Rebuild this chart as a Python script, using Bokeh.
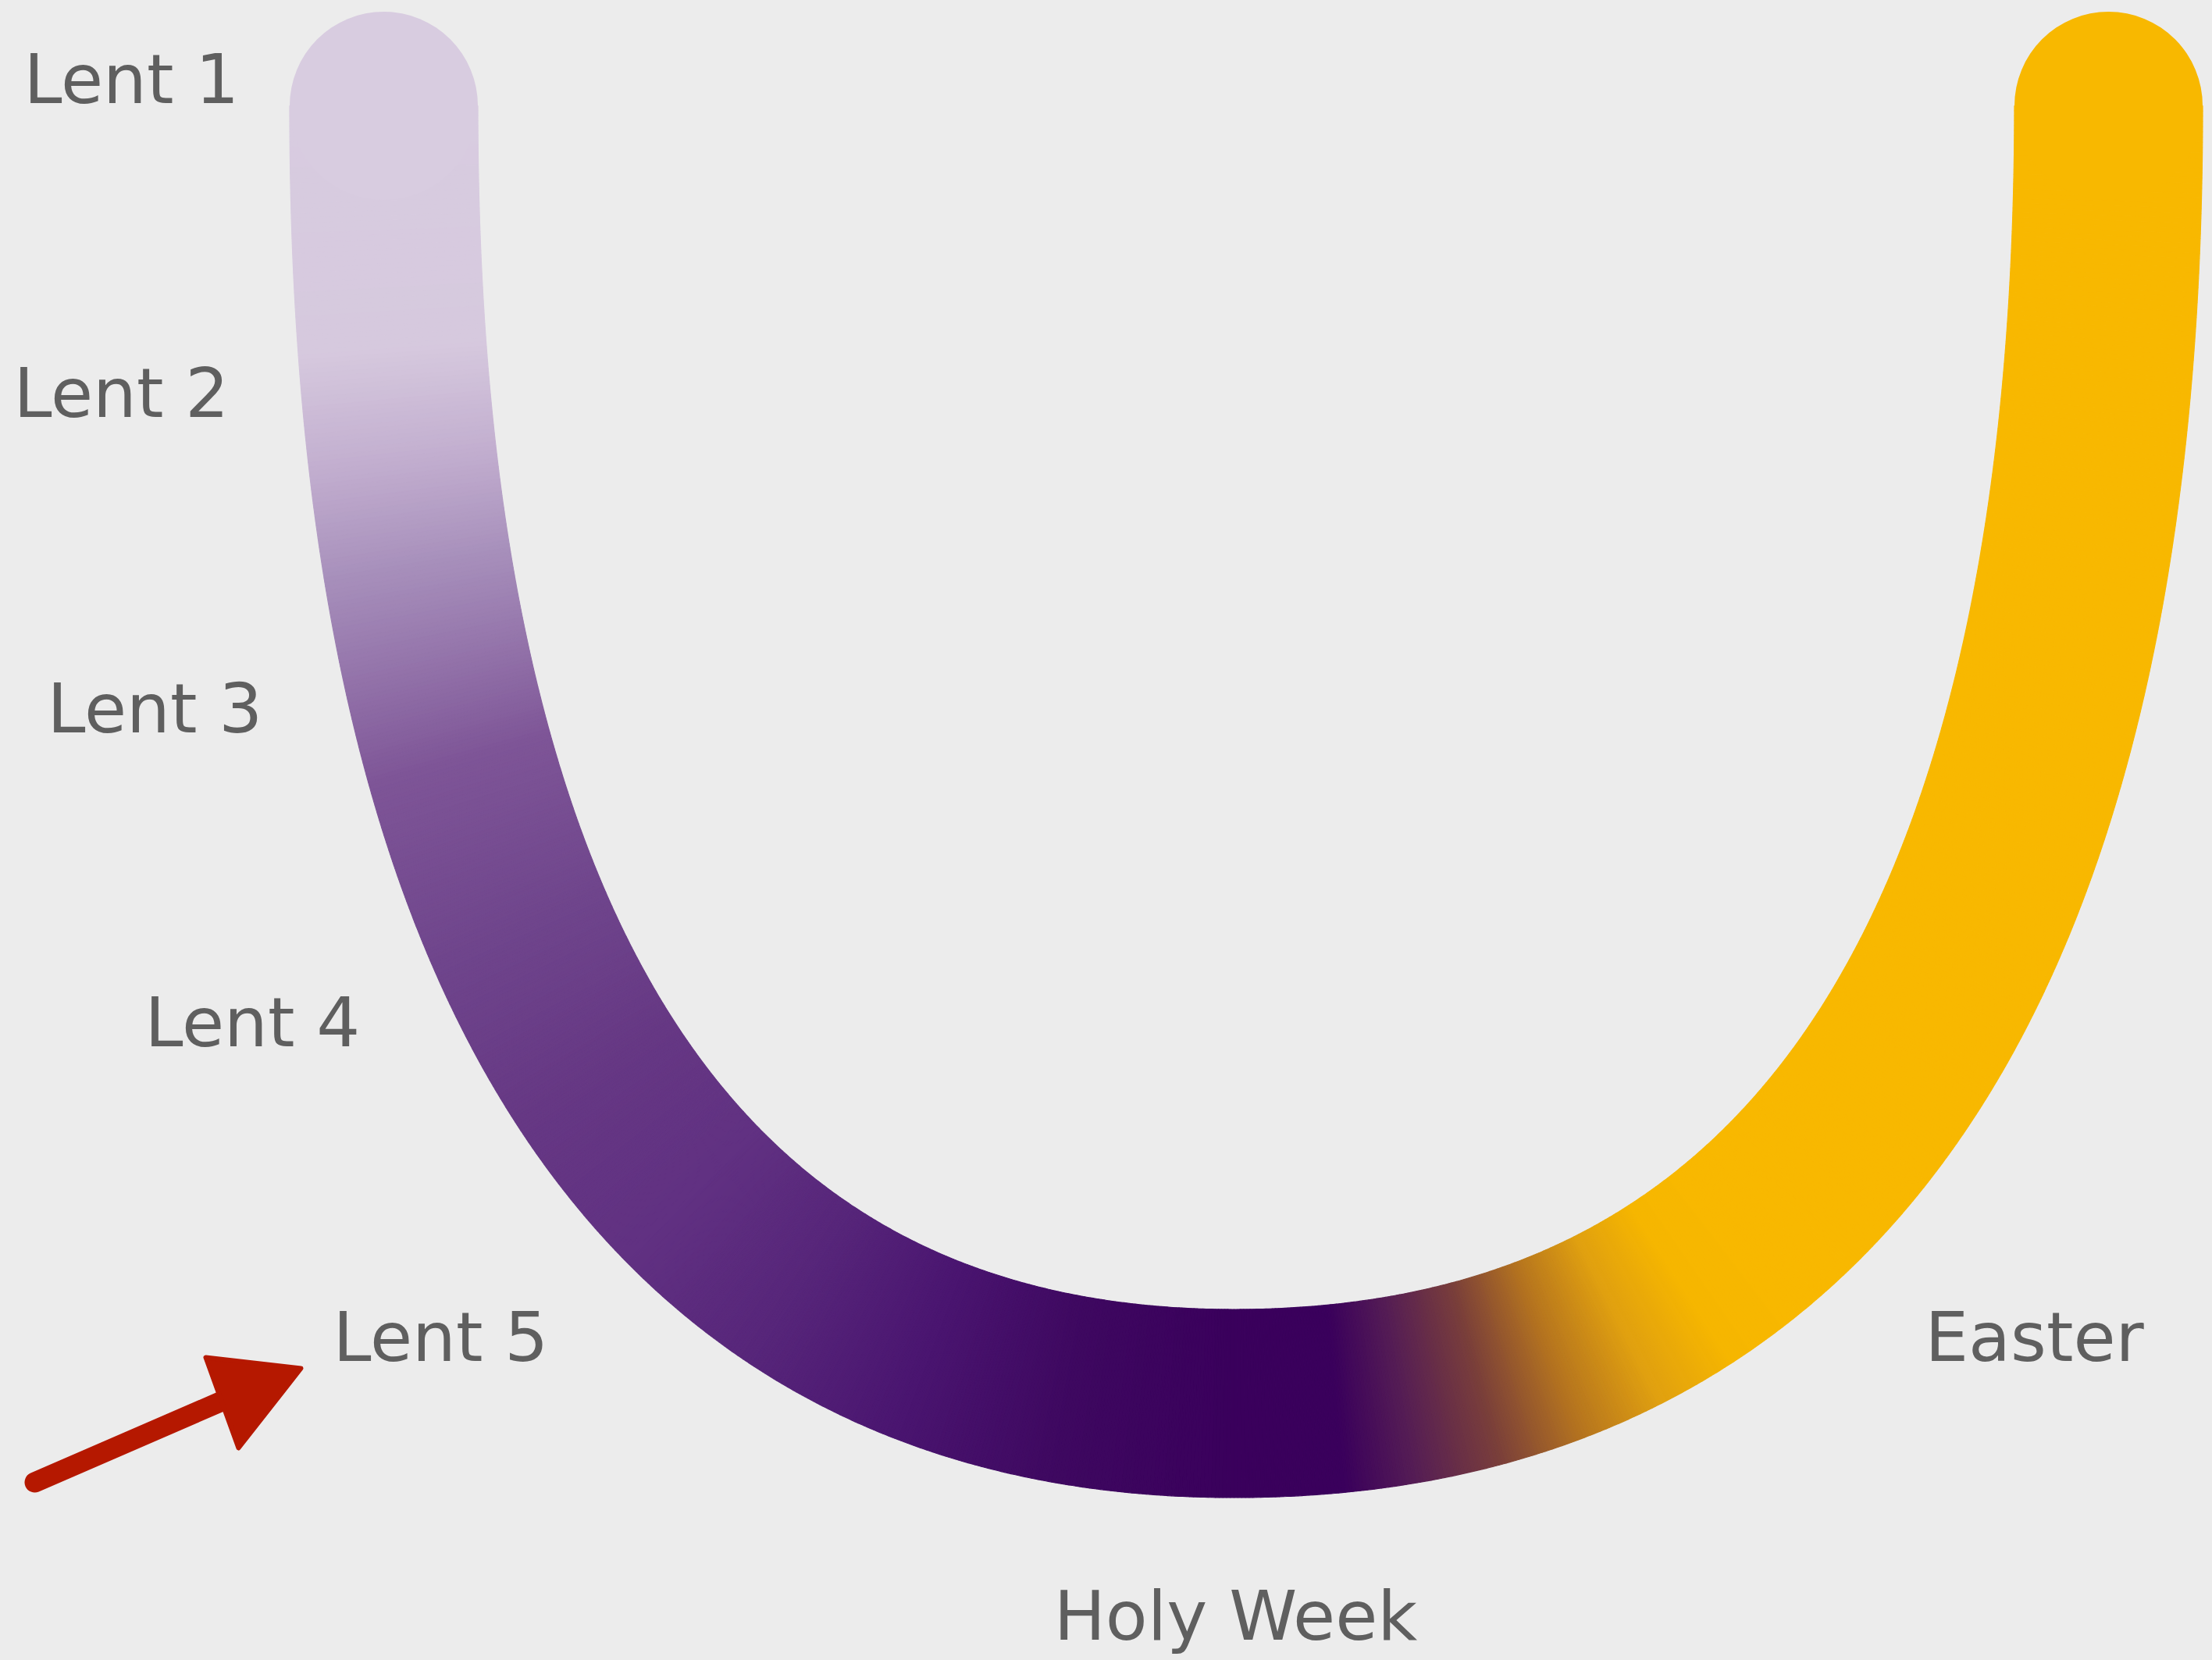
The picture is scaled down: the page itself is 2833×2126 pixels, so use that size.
import numpy as np
from bokeh.plotting import figure
from bokeh.models import Range1d
from bokeh.embed import file_html
from bokeh.resources import INLINE
from bokeh.core.properties import value

# ---------------- data ----------------
stages = ["Lent 1", "Lent 2", "Lent 3", "Lent 4", "Lent 5", "Holy Week", "Easter"]

# ---------------- layout (page pixel coordinates) ----------------
label_x = [30, 17, 60, 185, 426, 1582, 2465]
label_baseline = [134, 536, 940, 1342, 1745, 2102, 1745]
label_align = ["left", "left", "left", "left", "left", "center", "left"]
TEXT_SHIFT = 33  # correction for the renderer's alphabetic baseline placement
FONT = "DejaVu Sans"
FONT_SIZE = "88px"

# U-shaped band: two cubic Bezier halves (control points)
left_ctrl_x = [491, 491, 850, 1580]
left_ctrl_y = [135, 1220, 1797, 1797]
right_ctrl_x = [1580, 2331, 2700, 2700]
right_ctrl_y = [1797, 1797, 1220, 135]
BAND_W = 241

# gradient stops along the band: u in [0,1] left half, [1,2] right half
grad_u = [0.0, 0.10, 0.15, 0.20, 0.30, 0.40, 0.50, 0.60, 0.70, 0.80, 0.90, 1.00,
          1.06, 1.10, 1.15, 1.20, 1.25, 1.30, 1.35, 2.0]
grad_c = ["#d8cce0", "#d6c9de", "#c2aecf", "#a78fbb", "#7e5597", "#6f458c", "#663884",
          "#613182", "#57267a", "#4a1570", "#3e0860", "#3a005c",
          "#3a005c", "#551d55", "#7a3f3a", "#b5741f", "#e0a010", "#f6b600", "#f8b800", "#f8b800"]

# arrow (hand-drawn look approximated)
arrow_tail = (44, 1898)
arrow_base = (286, 1793)
arrow_head_x = [263, 385, 305]
arrow_head_y = [1738, 1752, 1854]

ARROW_COLOR = "#b51800"
TEXT_COLOR = "#5f5f5f"
BG = "#ececec"


def hex2rgb(hx):
    hx = hx.lstrip("#")
    return [int(hx[i:i + 2], 16) for i in (0, 2, 4)]


grad_rgb = np.array([hex2rgb(c) for c in grad_c], dtype=float)


def color_at(u):
    r = np.interp(u, grad_u, grad_rgb[:, 0])
    g = np.interp(u, grad_u, grad_rgb[:, 1])
    b = np.interp(u, grad_u, grad_rgb[:, 2])
    return "#%02x%02x%02x" % (int(round(r)), int(round(g)), int(round(b)))


def bezier(cx, cy, t):
    cx = np.asarray(cx, float)
    cy = np.asarray(cy, float)
    mt = 1 - t
    b = np.vstack([mt ** 3, 3 * mt ** 2 * t, 3 * mt * t ** 2, t ** 3])
    db = np.vstack([-3 * mt ** 2, 3 * mt ** 2 - 6 * mt * t, 6 * mt * t - 3 * t ** 2, 3 * t ** 2])
    return cx @ b, cy @ b, cx @ db, cy @ db


N = 500
t = np.linspace(0, 1, N)
xs_all, ys_all, dx_all, dy_all, u_all = [], [], [], [], []
for k, (cx, cy) in enumerate([(left_ctrl_x, left_ctrl_y), (right_ctrl_x, right_ctrl_y)]):
    x, y, dx, dy = bezier(cx, cy, t)
    sl = slice(0, N) if k == 0 else slice(1, N)
    xs_all.append(x[sl]); ys_all.append(y[sl]); dx_all.append(dx[sl]); dy_all.append(dy[sl])
    u_all.append(t[sl] + k)
cx_ = np.concatenate(xs_all); cy_ = np.concatenate(ys_all)
dx_ = np.concatenate(dx_all); dy_ = np.concatenate(dy_all)
u_ = np.concatenate(u_all)
ln = np.hypot(dx_, dy_)
ln[ln == 0] = 1
nx, ny = -dy_ / ln, dx_ / ln
h = BAND_W / 2
ox, oy = cx_ + nx * h, cy_ + ny * h
ix, iy = cx_ - nx * h, cy_ - ny * h

quad_xs, quad_ys, quad_c = [], [], []
for i in range(len(cx_) - 1):
    quad_xs.append([ox[i], ox[i + 1], ix[i + 1], ix[i]])
    quad_ys.append([oy[i], oy[i + 1], iy[i + 1], iy[i]])
    quad_c.append(color_at(0.5 * (u_[i] + u_[i + 1])))

W, H = 2833, 2126
p = figure(width=W, height=H, x_range=Range1d(0, W), y_range=Range1d(H, 0),
           output_backend="svg", toolbar_location=None, min_border=0,
           x_axis_type=None, y_axis_type=None,
           background_fill_color=BG, border_fill_color=BG, outline_line_color=None)
p.grid.visible = False

p.patches(quad_xs, quad_ys, fill_color=quad_c, line_color=quad_c, line_width=1.2)
# round caps
p.circle([cx_[0]], [cy_[0]], radius=h, fill_color=color_at(0.0), line_color=None)
p.circle([cx_[-1]], [cy_[-1]], radius=h, fill_color=color_at(2.0), line_color=None)

# labels
for align in ("left", "center"):
    idx = [i for i, a in enumerate(label_align) if a == align]
    p.text([label_x[i] for i in idx], [label_baseline[i] - TEXT_SHIFT for i in idx],
           [stages[i] for i in idx],
           text_font=value(FONT), text_font_size=FONT_SIZE, text_color=TEXT_COLOR,
           text_align=align, text_baseline="alphabetic")

# red arrow pointing at Lent 5
p.line([arrow_tail[0], arrow_base[0]], [arrow_tail[1], arrow_base[1]],
       line_color=ARROW_COLOR, line_width=26, line_cap="round")
p.patch(arrow_head_x, arrow_head_y, fill_color=ARROW_COLOR, line_color=ARROW_COLOR,
        line_width=6, line_join="round")

html = file_html(p, INLINE)
html = html.replace("</head>", "<style>body{background:#ececec;}</style></head>", 1)
open("out.html", "w").write(html)
